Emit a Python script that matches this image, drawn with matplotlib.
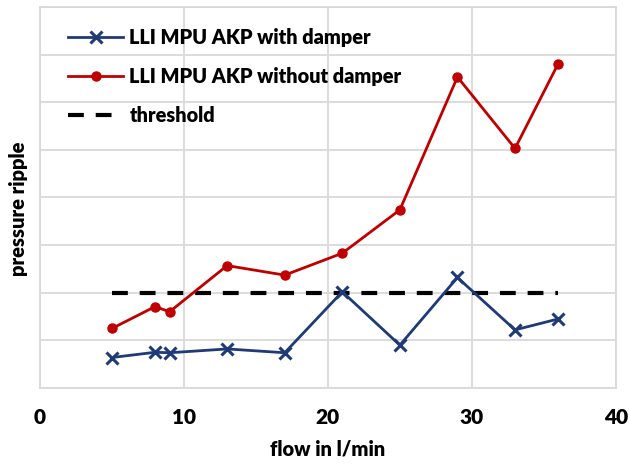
import matplotlib
matplotlib.use("Agg")
import matplotlib.pyplot as plt

# Flow rates (l/min) and measured pressure ripple (arbitrary units)
flow = [5, 8, 9, 13, 17, 21, 25, 29, 33, 36]
ripple_with_damper = [0.64, 0.75, 0.74, 0.82, 0.74, 2.02, 0.90, 2.32, 1.22, 1.45]
ripple_without_damper = [1.25, 1.71, 1.60, 2.57, 2.37, 2.83, 3.74, 6.53, 5.03, 6.81]
threshold_flow = [5, 36]
threshold_value = [2.0, 2.0]

x_ticks = [0, 10, 20, 30, 40]
x_tick_labels = ["0", "10", "20", "30", "40"]

plt.rcParams["font.family"] = ["Lato", "DejaVu Sans"]
plt.rcParams["font.weight"] = "bold"

fig = plt.figure(figsize=(6.29, 4.65), dpi=100)
ax = fig.add_axes([0.0636, 0.1656, 0.9154, 0.8194])

blue = "#1f3a78"
red = "#c00000"
grid = "#d9d9d9"

ax.plot(flow, ripple_with_damper, color=blue, lw=2.0, marker="x",
        ms=8, mew=2.2, label="LLI MPU AKP with damper", zorder=3)
ax.plot(flow, ripple_without_damper, color=red, lw=2.0, marker="o",
        ms=6.5, label="LLI MPU AKP without damper", zorder=3)
ax.plot(threshold_flow, threshold_value, color="black", lw=3.0,
        dashes=(3.8, 2.85), label="threshold", zorder=2)

ax.set_xlim(0, 40)
ax.set_ylim(0, 8)
ax.set_xticks(x_ticks)
ax.set_xticklabels(x_tick_labels, fontsize=15, fontweight="heavy")
ax.set_yticks(range(0, 9))
ax.set_yticklabels([])
ax.tick_params(length=0, pad=14.5)
ax.grid(True, color=grid, lw=1.3)
ax.set_axisbelow(True)
for s in ax.spines.values():
    s.set_color(grid)
    s.set_linewidth(1.3)

ax.set_xlabel("flow in l/min", fontsize=14.5, fontweight="heavy")
ax.xaxis.set_label_coords(0.5, -0.16)
ax.xaxis.label.set_va("center")
ax.set_ylabel("pressure ripple", fontsize=14.5, fontweight="heavy")
ax.yaxis.set_label_coords(-0.038, 0.47)
ax.yaxis.label.set_va("center")

leg = ax.legend(loc="upper left", bbox_to_anchor=(0.035, 0.966), frameon=False,
                prop={"size": 14.3, "weight": "heavy"}, handlelength=2.78,
                handletextpad=0.3, labelspacing=1.0, borderaxespad=0)

fig.savefig("out.png", dpi=100, facecolor="white")
